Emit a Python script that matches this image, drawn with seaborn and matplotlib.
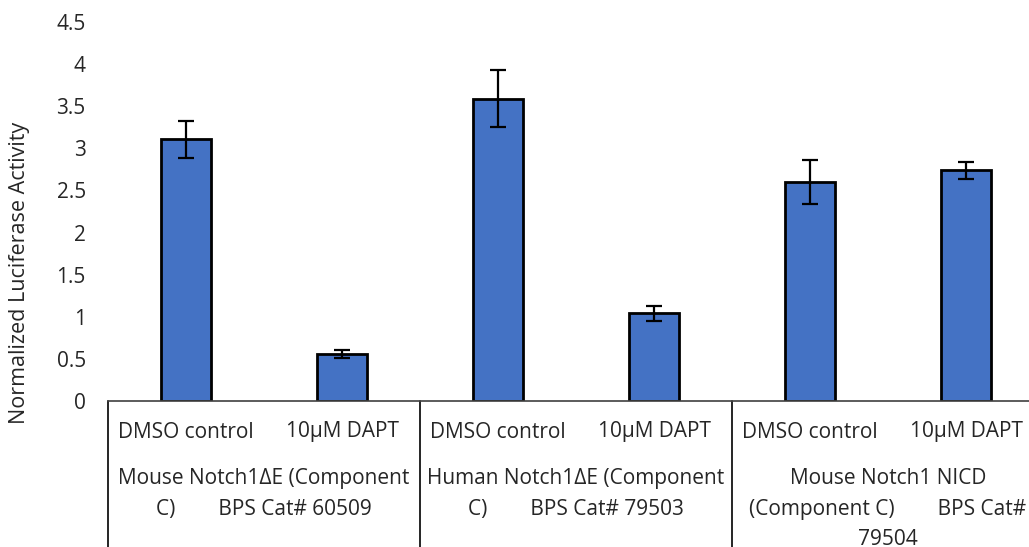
import numpy as np
import pandas as pd
import matplotlib.pyplot as plt
import matplotlib.transforms as mtransforms
import seaborn as sns

# --- data ---
treatments = ["DMSO control", "10µM DAPT"] * 3
groups = [
    "Mouse Notch1ΔE (Component\nC)        BPS Cat# 60509",
    "Human Notch1ΔE (Component\nC)        BPS Cat# 79503",
    "Mouse Notch1 NICD\n(Component C)        BPS Cat#\n79504",
]
values = [3.11, 0.56, 3.59, 1.04, 2.60, 2.74]
errors = [0.22, 0.05, 0.34, 0.09, 0.26, 0.10]

sns.set_theme(style="white")
plt.rcParams["font.family"] = ["Open Sans", "DejaVu Sans"]

df = pd.DataFrame(
    {
        "key": [f"{g.split()[0]}{i}|{t}" for i, (g, t) in enumerate(zip(np.repeat(groups, 2), treatments))],
        "value": values,
    }
)

fig = plt.figure(figsize=(10.29, 5.47), dpi=100)
W, H = 1029, 547
ax = fig.add_axes([108 / W, 1 - 401 / H, (W - 108) / W, (401 - 22) / H])

sns.barplot(
    data=df, x="key", y="value", order=df["key"].tolist(), ax=ax,
    color="#4472C4", saturation=1, width=0.32, edgecolor="black", linewidth=2,
)
xpos = np.arange(len(values))
ax.errorbar(xpos, values, yerr=errors, fmt="none", ecolor="black",
            elinewidth=1.6, capsize=6, capthick=1.6)

ax.set_ylim(0, 4.5)
ax.set_yticks(np.arange(0, 4.51, 0.5))
ax.set_yticklabels([f"{v:g}" for v in np.arange(0, 4.51, 0.5)], fontsize=15)
ax.tick_params(axis="y", length=0, pad=16)
ax.set_xlim(-0.5, -0.5 + (W - 108) / 156)
ax.set_xticks([])
ax.set_xlabel("")
ax.set_ylabel("")
for s in ["top", "right", "left"]:
    ax.spines[s].set_visible(False)
ax.spines["bottom"].set_color("#404040")
ax.spines["bottom"].set_linewidth(1.2)

# multi-level category axis
trans = mtransforms.blended_transform_factory(ax.transData, fig.transFigure)
for b in [-0.5, 1.5, 3.5]:
    ax.plot([b, b], [0, 1 - 401 / H], transform=trans, color="black",
            linewidth=1.2, clip_on=False)
for x, t in zip(xpos, treatments):
    ax.text(x, 1 - 432 / H, t, transform=trans, ha="center", va="center",
            fontsize=15, clip_on=False)
for i, g in enumerate(groups):
    ax.text(2 * i + 0.5, 1 - 468 / H, g, transform=trans, ha="center", va="top",
            fontsize=15, linespacing=1.6, clip_on=False)

fig.text(20 / W, 1 - 273 / H, "Normalized Luciferase Activity", rotation=90,
         ha="center", va="center", fontsize=15.5)

fig.savefig("out.png", dpi=100)
